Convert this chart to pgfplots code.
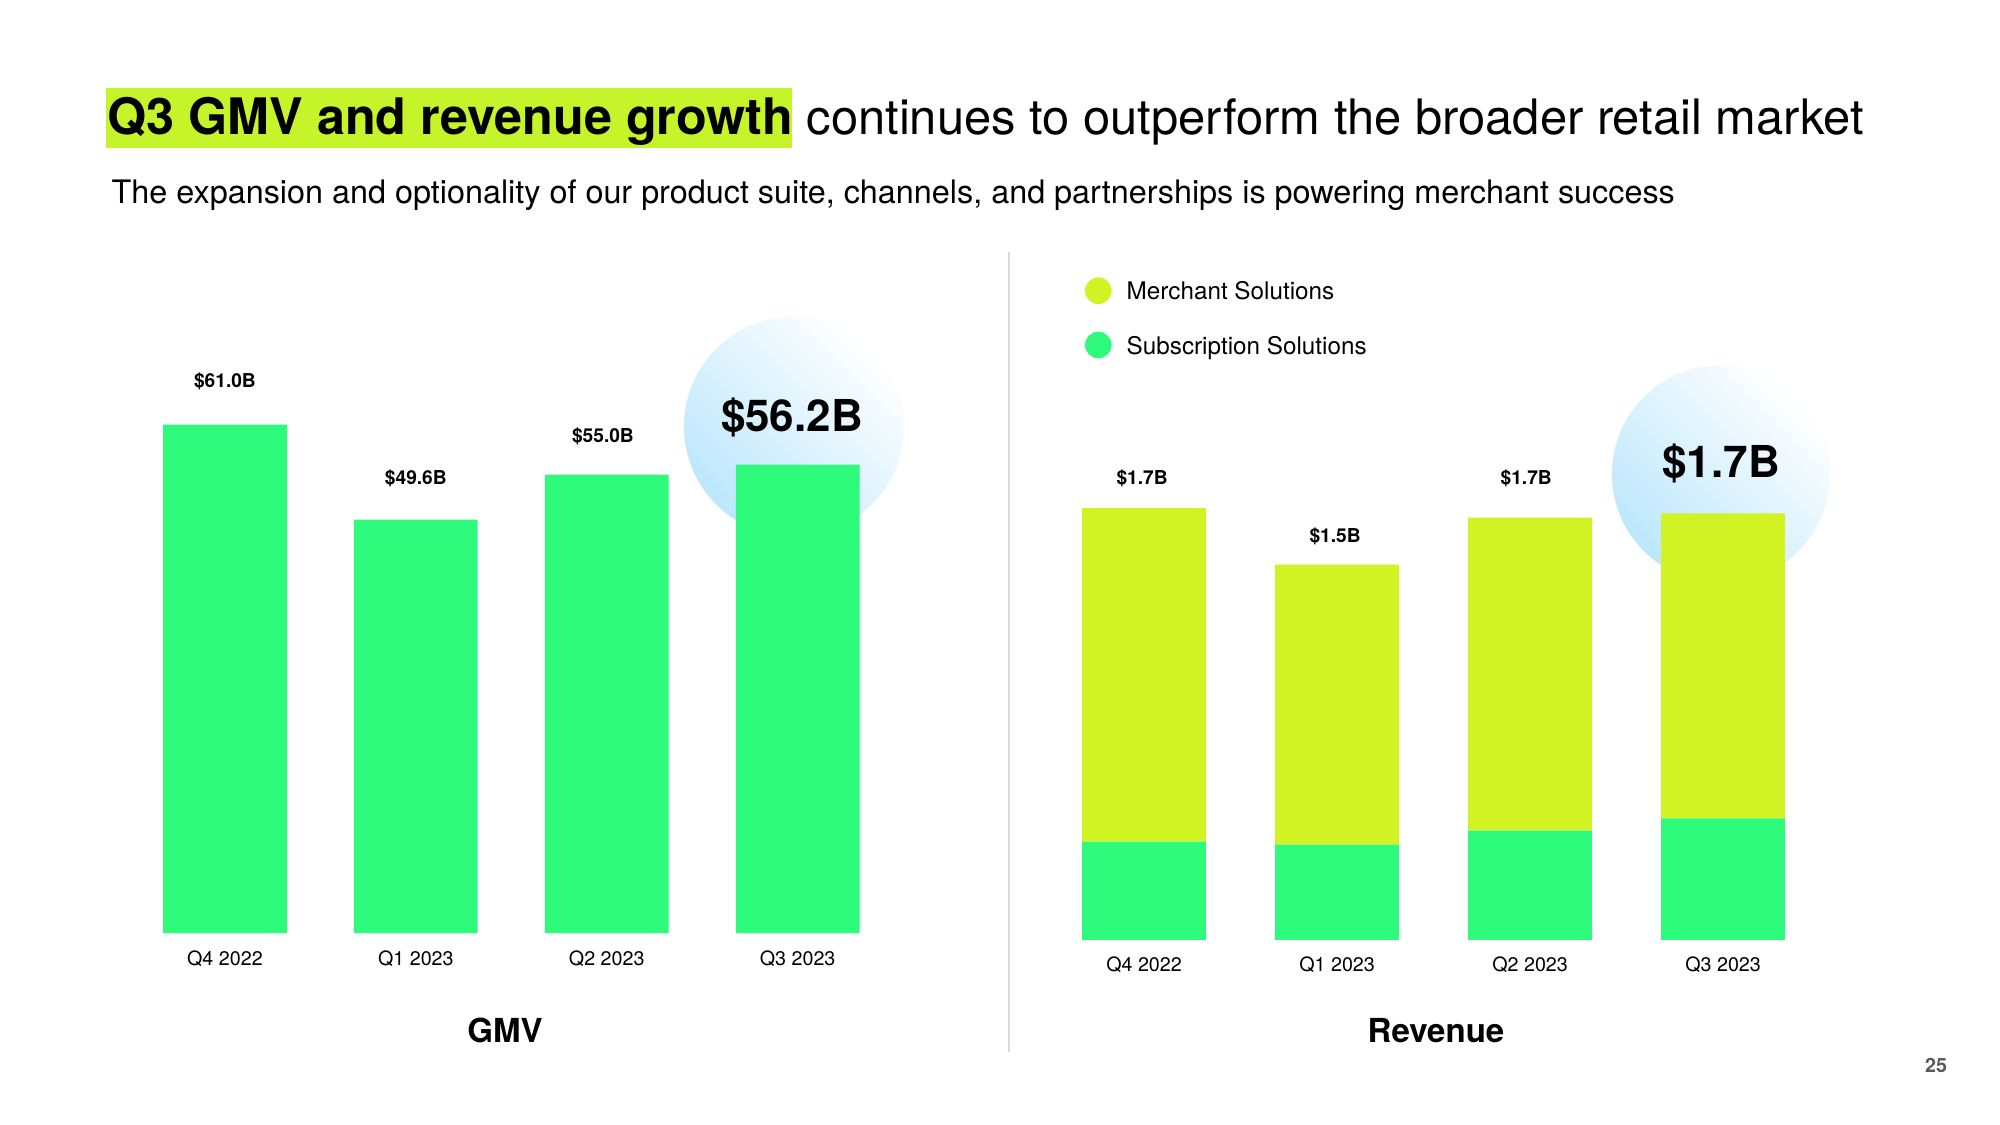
\documentclass[border=0pt]{standalone}
\usepackage{pgfplots}
\pgfplotsset{compat=1.18}
\usepackage{fontspec}
\setmainfont{TeX Gyre Heros}
\definecolor{lime}{HTML}{D2F323}
\definecolor{mint}{HTML}{2EFA7C}
\definecolor{hl}{HTML}{C6F42B}
\definecolor{circ}{RGB}{188,231,252}
\begin{document}
\begin{tikzpicture}
\begin{scope}[x=0.01cm,y=-0.01cm]
\path[use as bounding box, fill=white] (0,0) rectangle (2000,1125);
\fill[hl] (106,88) rectangle (792,148);
\node[anchor=base west, inner sep=0pt] at (107,135) {\fontsize{14.3}{17}\selectfont\textbf{Q3 GMV and revenue growth}\fontsize{13.9}{17}\selectfont\ continues to outperform the broader retail market};
\node[anchor=base west, inner sep=0pt] at (111,203.5) {\fontsize{9.2}{11}\selectfont The expansion and optionality of our product suite, channels, and partnerships is powering merchant success};
\draw[black!15, line width=0.6pt] (1009,252) -- (1009,1052);
\shade[top color=white, bottom color=circ, shading angle=-45] (794,426.7) circle (1.1cm);
\shade[top color=white, bottom color=circ, shading angle=-45] (1721,474) circle (1.09cm);
\fill[lime] (1098.3,290.7) circle (0.133cm);
\fill[mint] (1098.3,345) circle (0.133cm);
\node[anchor=base west, inner sep=0pt] at (1126,300) {\fontsize{6.9}{8}\selectfont Merchant Solutions};
\node[anchor=base west, inner sep=0pt] at (1126,354.3) {\fontsize{6.9}{8}\selectfont Subscription Solutions};
\node[anchor=base, inner sep=0pt] at (505,1042.3) {\fontsize{9.4}{11}\selectfont\textbf{GMV}};
\node[anchor=base, inner sep=0pt] at (1436,1042.3) {\fontsize{9.4}{11}\selectfont\textbf{Revenue}};
\node[anchor=base, inner sep=0pt, text=black!65] at (1936,1072.7) {\fontsize{5.6}{7}\selectfont\textbf{25}};
\end{scope}

\begin{axis}[at={(1.294cm,-9.327cm)}, anchor=south west, scale only axis,
  width=7.632cm, height=5.8345cm, xmin=-0.5, xmax=3.5, ymin=0, ymax=70,
  axis line style={draw=none}, ytick=\empty, xtick={0,1,2,3},
  xticklabels={Q4 2022,Q1 2023,Q2 2023,Q3 2023}, major tick length=0pt,
  xticklabel style={anchor=base, yshift=-0.323cm, font=\fontsize{5.6}{7}\selectfont, inner sep=0pt},
  ybar, bar width=1.237cm, clip=false]
\addplot[fill=mint, draw=none] coordinates {(0,61.0) (1,49.6) (2,55.0) (3,56.2)};
\node[anchor=base, inner sep=0pt, font=\fontsize{5.45}{7}\selectfont\bfseries] at (axis cs:0,65.44) {\$61.0B};
\node[anchor=base, inner sep=0pt, font=\fontsize{5.45}{7}\selectfont\bfseries] at (axis cs:1,53.75) {\$49.6B};
\node[anchor=base, inner sep=0pt, font=\fontsize{5.45}{7}\selectfont\bfseries] at (axis cs:1.98,58.79) {\$55.0B};
\node[anchor=base, inner sep=0pt, font=\fontsize{12.5}{14}\selectfont\bfseries] at (axis cs:2.97,60.11) {\$56.2B};
\end{axis}

\begin{axis}[at={(10.4695cm,-9.393cm)}, anchor=south west, scale only axis,
  width=7.716cm, height=4.974cm, xmin=-0.5, xmax=3.5, ymin=0, ymax=2,
  axis line style={draw=none}, ytick=\empty, xtick={0,1,2,3},
  xticklabels={Q4 2022,Q1 2023,Q2 2023,Q3 2023}, major tick length=0pt,
  xticklabel style={anchor=base, yshift=-0.317cm, font=\fontsize{5.6}{7}\selectfont, inner sep=0pt},
  ybar stacked, bar width=1.237cm, clip=false]
\addplot[fill=mint, draw=none] coordinates {(0,0.395) (1,0.383) (2,0.439) (3,0.488)};
\addplot[fill=lime, draw=none] coordinates {(0,1.340) (1,1.125) (2,1.258) (3,1.226)};
\node[anchor=base, inner sep=0pt, font=\fontsize{5.45}{7}\selectfont\bfseries] at (axis cs:-0.01,1.8295) {\$1.7B};
\node[anchor=base, inner sep=0pt, font=\fontsize{5.45}{7}\selectfont\bfseries] at (axis cs:0.99,1.5987) {\$1.5B};
\node[anchor=base, inner sep=0pt, font=\fontsize{5.45}{7}\selectfont\bfseries] at (axis cs:1.98,1.8295) {\$1.7B};
\node[anchor=base, inner sep=0pt, font=\fontsize{12.5}{14}\selectfont\bfseries] at (axis cs:2.99,1.856) {\$1.7B};
\end{axis}
\end{tikzpicture}
\end{document}
